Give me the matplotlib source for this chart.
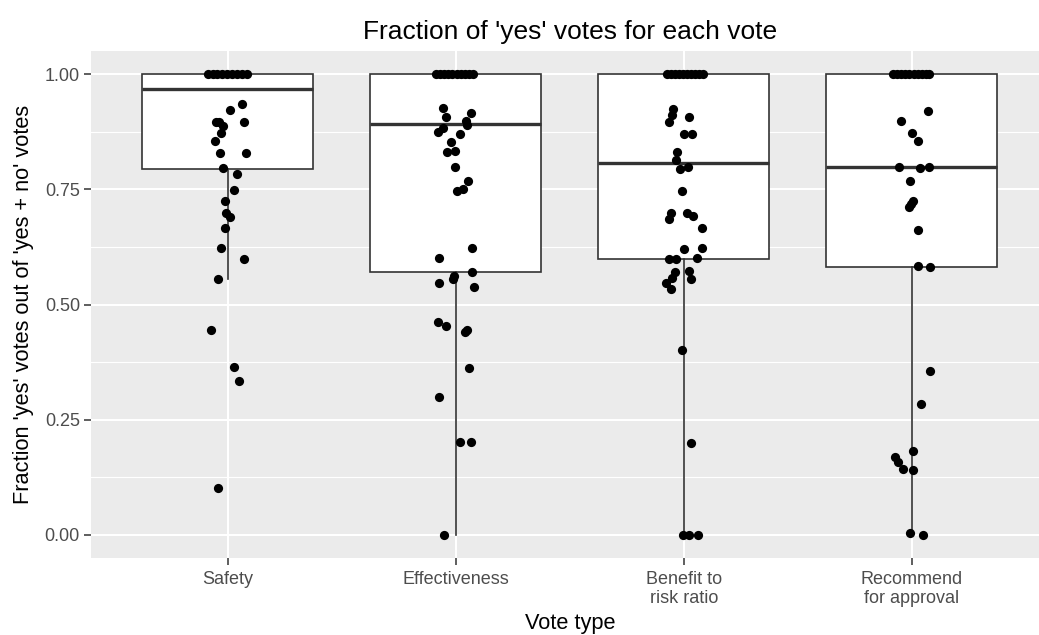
import matplotlib
matplotlib.use("Agg")
import matplotlib.pyplot as plt
import numpy as np

plt.rcParams['font.family'] = ['Liberation Sans', 'DejaVu Sans']

# categories
cats = ["Safety", "Effectiveness", "Benefit to\nrisk ratio", "Recommend\nfor approval"]

# box stats (q1, median, q3, lower whisker, upper whisker)
q1 = [0.794, 0.570, 0.599, 0.582]
med = [0.967, 0.891, 0.808, 0.799]
q3 = [1.0, 1.0, 1.0, 1.0]
whislo = [0.555, 0.0, 0.0, 0.0]
whishi = [1.0, 1.0, 1.0, 1.0]

# points: fraction of yes votes and horizontal jitter (category units)
safety_y = [1, 1, 1, 1, 1, 1, 1, 1, 1,
            0.934, 0.923, 0.897, 0.897, 0.897, 0.888, 0.873, 0.855, 0.829, 0.829,
            0.796, 0.783, 0.748, 0.724, 0.699, 0.689, 0.665, 0.623, 0.598, 0.555,
            0.444, 0.365, 0.333, 0.101]
safety_j = [-0.088, -0.066, -0.048, -0.026, -0.004, 0.018, 0.039, 0.061, 0.083,
            0.064, 0.009, 0.070, -0.053, -0.039, -0.019, -0.031, -0.057, -0.035, 0.078,
            -0.022, 0.039, 0.025, -0.014, -0.009, 0.009, -0.014, -0.028, 0.070, -0.044,
            -0.075, 0.025, 0.051, -0.044]

eff_y = [1, 1, 1, 1, 1, 1, 1, 1, 1, 1,
         0.927, 0.907, 0.915, 0.898, 0.889, 0.884, 0.875, 0.871, 0.852, 0.830,
         0.833, 0.799, 0.767, 0.747, 0.751, 0.623, 0.601, 0.571, 0.562, 0.555,
         0.546, 0.539, 0.461, 0.454, 0.440, 0.444, 0.362, 0.300, 0.202, 0.202, 0.0]
eff_j = [-0.088, -0.070, -0.053, -0.035, -0.018, 0.004, 0.022, 0.039, 0.057, 0.075,
         -0.058, -0.044, 0.066, 0.043, 0.050, -0.058, -0.078, 0.018, -0.019, -0.038,
         -0.004, -0.004, 0.053, 0.006, 0.032, 0.073, -0.073, 0.073, -0.007, -0.014,
         -0.073, 0.080, -0.080, -0.041, 0.039, 0.047, 0.058, -0.073, 0.018, 0.066, -0.053]

ben_y = [1, 1, 1, 1, 1, 1, 1, 1, 1, 1,
         0.925, 0.911, 0.897, 0.907, 0.871, 0.871, 0.830, 0.813, 0.795, 0.799,
         0.747, 0.699, 0.685, 0.699, 0.692, 0.665, 0.620, 0.623, 0.598, 0.598,
         0.600, 0.571, 0.573, 0.555, 0.557, 0.546, 0.533, 0.401, 0.199, 0.0, 0.0, 0.0]
ben_j = [-0.075, -0.057, -0.039, -0.022, -0.004, 0.013, 0.031, 0.048, 0.066, 0.083,
         -0.047, -0.050, -0.067, 0.023, -0.001, 0.034, -0.028, -0.035, -0.018, 0.019,
         -0.009, -0.057, -0.067, 0.016, 0.041, 0.079, 0.0, 0.079, -0.064, -0.035,
         0.058, -0.039, 0.023, 0.031, -0.050, -0.079, -0.057, -0.007, 0.031, -0.003, 0.023, 0.063]

rec_y = [1, 1, 1, 1, 1, 1, 1, 1, 1, 1,
         0.920, 0.898, 0.872, 0.855, 0.799, 0.796, 0.799, 0.767, 0.725, 0.712,
         0.717, 0.662, 0.584, 0.581, 0.356, 0.284, 0.183, 0.169, 0.158, 0.144,
         0.141, 0.004, 0.0]
rec_j = [-0.083, -0.066, -0.048, -0.031, -0.013, 0.009, 0.026, 0.044, 0.061, 0.075,
         0.069, -0.047, 0.0, 0.028, -0.058, 0.035, 0.075, -0.007, 0.007, -0.012,
         -0.004, 0.028, 0.028, 0.080, 0.080, 0.039, 0.007, -0.075, -0.060, -0.039,
         0.007, -0.007, 0.047]

groups_y = [safety_y, eff_y, ben_y, rec_y]
groups_j = [safety_j, eff_j, ben_j, rec_j]

fig = plt.figure(figsize=(10.39, 6.35), dpi=100)
# panel runs a little past the right edge, as in the original
ax = fig.add_axes([91 / 1039, 77 / 635, 957.6 / 1039, 507 / 635])
ax.set_facecolor("#EBEBEB")

pos = np.arange(1, len(cats) + 1)
stats = []
for i in range(len(cats)):
    stats.append(dict(q1=q1[i], med=med[i], q3=q3[i], whislo=whislo[i], whishi=whishi[i], label=cats[i]))

ax.bxp(stats, positions=pos, widths=0.75, showfliers=False, showcaps=False, patch_artist=True,
       boxprops=dict(facecolor="white", edgecolor="#333333", linewidth=1.2),
       medianprops=dict(color="#333333", linewidth=2.4),
       whiskerprops=dict(color="#333333", linewidth=1.2),
       zorder=2)

for i in range(len(cats)):
    xs = pos[i] + np.array(groups_j[i])
    ax.scatter(xs, groups_y[i], s=44, color="black", zorder=3, linewidths=0)

ax.set_xlim(0.4, 4.6)
ax.set_ylim(-0.05, 1.05)
ax.set_yticks([0, 0.25, 0.5, 0.75, 1.0])
ax.set_yticklabels(["0.00", "0.25", "0.50", "0.75", "1.00"])
ax.set_yticks([0.125, 0.375, 0.625, 0.875], minor=True)
ax.set_xticks(pos)
ax.set_xticklabels(cats, linespacing=1.15)

ax.grid(which="major", color="white", linewidth=1.5)
ax.grid(which="minor", axis="y", color="white", linewidth=0.8)
ax.set_axisbelow(True)
for s in ax.spines.values():
    s.set_visible(False)
ax.tick_params(which="major", length=5, width=1.1, color="#333333", labelcolor="#4D4D4D",
               labelsize=13, pad=3)
ax.tick_params(axis="x", which="major", pad=4.5)
ax.tick_params(which="minor", length=0)

ax.set_xlabel("Vote type", fontsize=15.7, color="black", labelpad=4)
ax.set_ylabel("Fraction 'yes' votes out of 'yes + no' votes", fontsize=15.7, color="black", labelpad=8)
ax.set_title("Fraction of 'yes' votes for each vote", fontsize=19, pad=9)

fig.savefig("out.png", dpi=100)
